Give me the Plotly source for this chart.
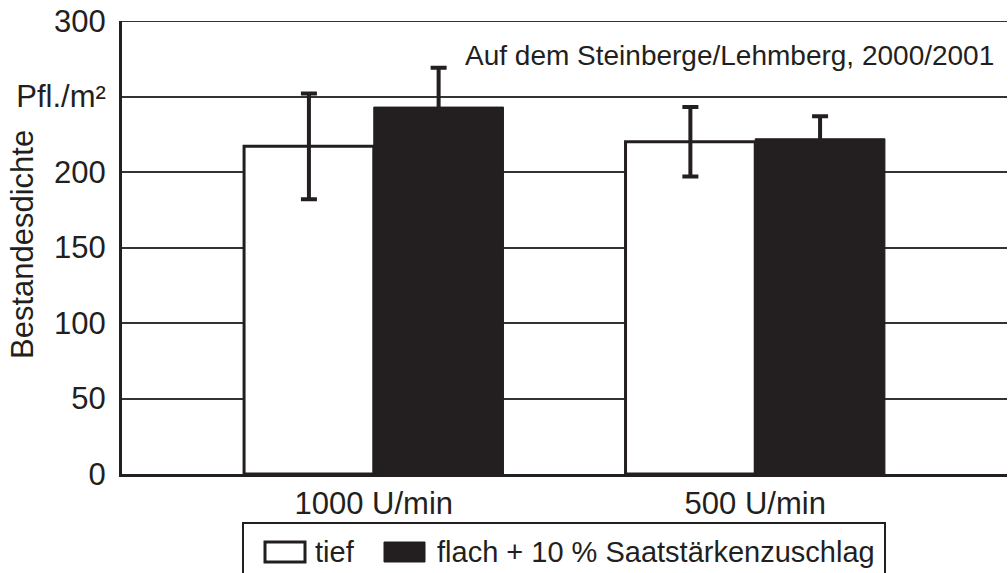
import plotly.graph_objects as go

categories = ["1000 U/min", "500 U/min"]
tief_values = [217, 220]
tief_errors = [35, 23]
flach_values = [243, 222]
flach_errors = [26, 15]
series_names = ["tief", "flach + 10 % Saatstärkenzuschlag"]
y_ticks = [0, 50, 100, 150, 200, 250, 300]
y_ticktext = ["0", "50", "100", "150", "200", "Pfl./m²", "300"]

W, H = 1008, 573
L, R, T, B = 122, 1, 21, 99
pw, ph = W - L - R, H - T - B

def px(x):
    return (x - L) / pw

def py(y):
    return (H - B - y) / ph

FONT = "Liberation Sans, Arial, sans-serif"
INK = "#231f20"

fig = go.Figure()
fig.add_trace(go.Bar(
    x=categories, y=tief_values, name=series_names[0],
    marker=dict(color="white", line=dict(color=INK, width=3)),
    error_y=dict(type="data", array=tief_errors, visible=True,
                 color=INK, thickness=4, width=8),
))
fig.add_trace(go.Bar(
    x=categories, y=flach_values, name=series_names[1],
    marker=dict(color=INK, line=dict(color=INK, width=1)),
    error_y=dict(type="data", array=flach_errors, visible=True,
                 color=INK, thickness=4, width=8),
))

fig.update_layout(
    width=W, height=H,
    margin=dict(l=L, r=R, t=T, b=B, pad=0),
    paper_bgcolor="white", plot_bgcolor="white",
    barmode="group", bargap=0.32, bargroupgap=0,
    showlegend=False,
    font=dict(family=FONT, color=INK, size=30),
)
fig.update_xaxes(
    range=[-0.66, 1.66], showgrid=False, zeroline=False,
    showline=True, linecolor=INK, linewidth=3,
    ticks="", ticklabelstandoff=0,
    tickfont=dict(size=31, family=FONT, color=INK),
)
fig.update_yaxes(
    range=[0, 300], tickvals=y_ticks, ticktext=y_ticktext,
    showgrid=True, gridcolor="#333333", gridwidth=2,
    zeroline=False, showline=True, linecolor=INK, linewidth=3,
    ticks="", ticklabelstandoff=7,
    tickfont=dict(size=31, family=FONT, color=INK),
)

# top gridline at 300
fig.add_shape(type="line", xref="paper", yref="y", x0=0, x1=1,
              y0=y_ticks[-1], y1=y_ticks[-1],
              line=dict(color="#333333", width=2))

fig.add_annotation(text="Bestandesdichte", xref="paper", yref="paper",
                   x=px(22), y=py(245), xanchor="center", yanchor="middle",
                   textangle=-90, showarrow=False,
                   font=dict(size=31, family=FONT, color=INK))
fig.add_annotation(text="Auf dem Steinberge/Lehmberg, 2000/2001",
                   xref="paper", yref="paper", x=px(996), y=py(55),
                   xanchor="right", yanchor="middle", showarrow=False,
                   font=dict(size=28, family=FONT, color=INK))

# custom legend
fig.add_shape(type="rect", xref="paper", yref="paper",
              x0=px(243), x1=px(885), y0=py(523), y1=py(600),
              line=dict(color=INK, width=2), fillcolor="white")
fig.add_shape(type="rect", xref="paper", yref="paper",
              x0=px(265), x1=px(305), y0=py(542), y1=py(562),
              line=dict(color=INK, width=3), fillcolor="white")
fig.add_shape(type="rect", xref="paper", yref="paper",
              x0=px(384), x1=px(425), y0=py(542), y1=py(562),
              line=dict(color=INK, width=1), fillcolor=INK)
fig.add_annotation(text=series_names[0], xref="paper", yref="paper",
                   x=px(313), y=py(552), xanchor="left", yanchor="middle",
                   showarrow=False, font=dict(size=29, family=FONT, color=INK))
fig.add_annotation(text=series_names[1], xref="paper", yref="paper",
                   x=px(435), y=py(552), xanchor="left", yanchor="middle",
                   showarrow=False, font=dict(size=29, family=FONT, color=INK))

fig.write_html("out.html",
               config={"displayModeBar": False},
               post_script="document.body.style.margin='0';"
                           "document.body.style.overflow='hidden';")
